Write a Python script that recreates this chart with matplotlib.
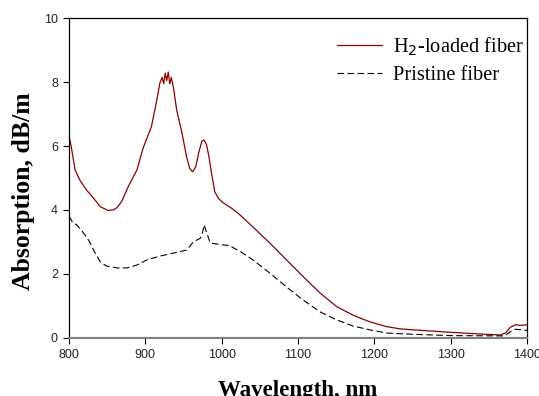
import matplotlib
matplotlib.use("Agg")
import matplotlib.pyplot as plt

wl_h2 = [800, 803, 808, 814, 823, 832, 841, 851, 858, 863, 869, 878, 889, 897, 908,
         915, 919, 922, 924, 926, 928, 930, 932, 934, 937, 941, 948, 954, 958, 962,
         966, 970, 974, 977, 980, 983, 987, 991, 996, 1002, 1013, 1024, 1041, 1063,
         1085, 1107, 1129, 1151, 1172, 1194, 1216, 1234, 1251, 1295, 1338, 1365,
         1372, 1378, 1385, 1392, 1400]
abs_h2 = [6.32, 5.97, 5.25, 4.94, 4.62, 4.37, 4.10, 3.98, 4.00, 4.07, 4.26, 4.75,
          5.25, 5.93, 6.61, 7.44, 7.97, 8.15, 7.95, 8.28, 8.05, 8.32, 7.95, 8.15,
          7.80, 7.13, 6.40, 5.66, 5.30, 5.19, 5.35, 5.80, 6.15, 6.19, 6.05, 5.70,
          5.10, 4.56, 4.35, 4.22, 4.05, 3.84, 3.46, 2.96, 2.43, 1.90, 1.39, 0.96,
          0.70, 0.49, 0.34, 0.27, 0.24, 0.17, 0.11, 0.08, 0.15, 0.32, 0.40, 0.38,
          0.40]

wl_pr = [800, 805, 810, 815, 821, 827, 832, 838, 841, 849, 863, 876, 889, 902, 919,
         936, 954, 963, 972, 975, 977, 980, 985, 1002, 1010, 1024, 1041, 1063, 1085,
         1107, 1129, 1151, 1172, 1194, 1216, 1251, 1300, 1370, 1378, 1385, 1400]
abs_pr = [3.80, 3.60, 3.53, 3.40, 3.21, 3.00, 2.74, 2.50, 2.37, 2.24, 2.18, 2.18,
          2.27, 2.43, 2.55, 2.64, 2.74, 3.00, 3.11, 3.30, 3.53, 3.30, 2.96, 2.90,
          2.88, 2.70, 2.43, 2.02, 1.58, 1.17, 0.80, 0.55, 0.36, 0.24, 0.14, 0.10,
          0.06, 0.05, 0.18, 0.26, 0.22]

x_ticks = [800, 900, 1000, 1100, 1200, 1300, 1400]
y_ticks = [0, 2, 4, 6, 8, 10]

serif = ["Liberation Serif", "DejaVu Serif"]
sans = ["Liberation Sans", "DejaVu Sans"]

fig = plt.figure(figsize=(5.39, 3.96), dpi=100)
ax = fig.add_axes([0.128, 0.1477, 0.850, 0.806])

ax.plot(wl_h2, abs_h2, color="#8b0000", lw=0.9, label="H$_2$-loaded fiber")
ax.plot(wl_pr, abs_pr, color="black", lw=0.8, dashes=(6, 3), label="Pristine fiber")

ax.set_xlim(800, 1400)
ax.set_ylim(0, 10)
ax.set_xticks(x_ticks)
ax.set_yticks(y_ticks)
ax.tick_params(direction="out", length=4, width=0.8, labelsize=9, pad=4)
for lab in ax.get_xticklabels() + ax.get_yticklabels():
    lab.set_family(sans)
    lab.set_color("#222222")
ax.spines["bottom"].set_color("#808080")
ax.spines["bottom"].set_linewidth(1.5)
for s in ["top", "right", "left"]:
    ax.spines[s].set_color("black")
    ax.spines[s].set_linewidth(0.9)

ax.set_xlabel("Wavelength, nm", family=serif, weight="bold", fontsize=16.5, labelpad=14)
ax.set_ylabel("Absorption, dB/m", family=serif, weight="bold", fontsize=18.5)
ax.yaxis.set_label_coords(-0.075, 0.459)

leg = ax.legend(loc="upper right", bbox_to_anchor=(1.0175, 0.981), frameon=False,
                prop={"family": serif, "size": 14.7},
                handlelength=2.2, borderaxespad=0.15, labelspacing=0.4, handletextpad=0.55)

fig.savefig("out.png", dpi=100)
